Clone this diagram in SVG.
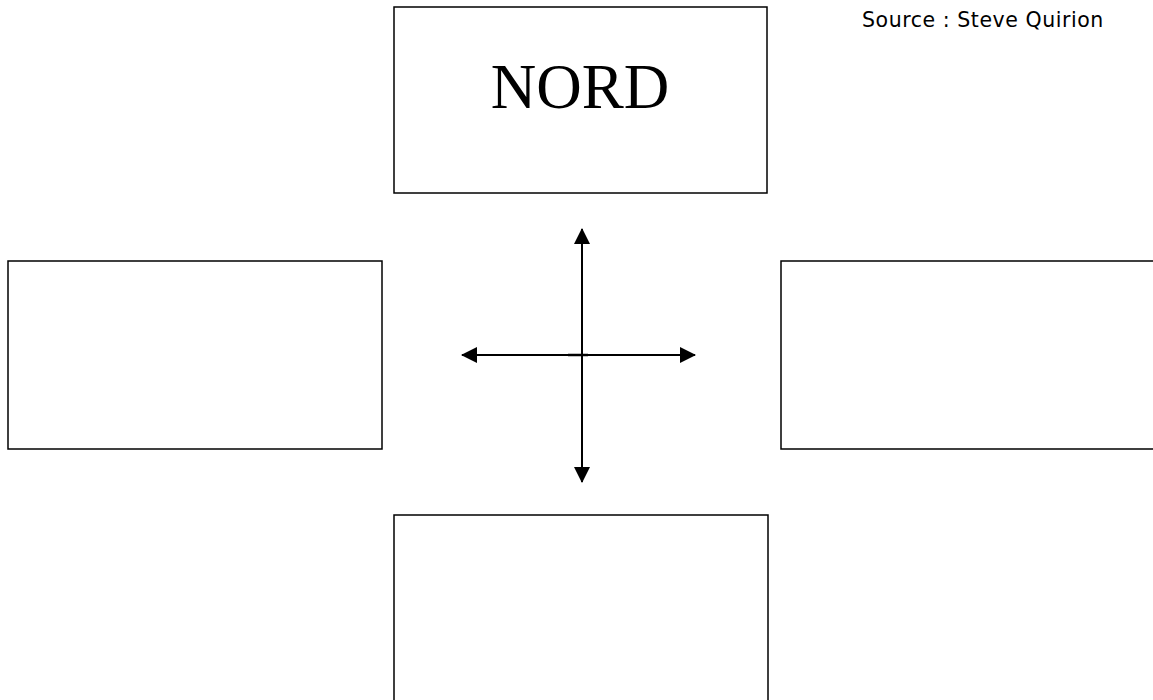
<svg xmlns="http://www.w3.org/2000/svg" width="1153" height="700" viewBox="0 0 1153 700">
<defs>
<style>
.box{fill:#fff;stroke:#000;stroke-width:1.5}
.ln{stroke:#000;stroke-width:2;fill:none}
</style>
<marker id="ah" viewBox="0 0 16 16" refX="15" refY="8" markerWidth="16" markerHeight="16" markerUnits="userSpaceOnUse" orient="auto">
<path d="M0,0 L16,8 L0,16 Z" fill="#000"/>
</marker>
</defs>
<rect width="1153" height="700" fill="#fff"/>
<g id="source"><text x="862" y="27" font-family="DejaVu Sans, Verdana, sans-serif" font-size="20.5" letter-spacing="0.55" fill="#000">Source : Steve Quirion</text></g>
<g id="nord"><rect class="box" x="394" y="7" width="373" height="186"/>
<text x="580" y="108" font-family="Liberation Serif, Times New Roman, serif" font-size="63" text-anchor="middle" fill="#000">NORD</text></g>
<g id="ouest"><rect class="box" x="8" y="261" width="374" height="188"/></g>
<g id="est"><path class="box" d="M1155,261 H781 V449 H1155" /></g>
<g id="sud"><path class="box" d="M394,702 V515 H768 V702"/></g>
<g id="connectors">
<line class="ln" x1="582" y1="355" x2="582" y2="229" marker-end="url(#ah)"/>
<line class="ln" x1="582" y1="355" x2="582" y2="482" marker-end="url(#ah)"/>
<line class="ln" x1="582" y1="355" x2="462" y2="355" marker-end="url(#ah)"/>
<line class="ln" x1="582" y1="355" x2="695" y2="355" marker-end="url(#ah)"/>
<line x1="568" y1="355" x2="588" y2="355" stroke="#000" stroke-width="2.5"/>
</g>
</svg>
